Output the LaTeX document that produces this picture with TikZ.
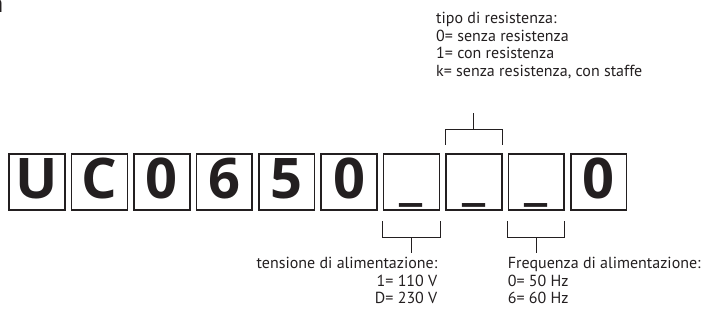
\documentclass[tikz,border=0pt]{standalone}
\usepackage{fontspec}
\setmainfont{Open Sans}
\newfontfamily\notefont{PT Sans}
\usepackage{xcolor}
\usetikzlibrary{positioning,calc}
\definecolor{ink}{HTML}{231F20}
\tikzset{
  digit/.style={draw=ink,text=ink,line width=1.6pt,minimum width=55.8pt,minimum height=56.5pt,inner sep=0pt,text height=32.5pt,text depth=0pt,font=\fontsize{56}{56}\bfseries\selectfont},
  note/.style={text=ink,font=\notefont\fontsize{16}{17.7}\selectfont,inner sep=0pt},
  brk/.style={ink,line width=0.9pt},
}

\begin{document}
\begin{tikzpicture}[x=1pt,y=-1pt]
\useasboundingbox (0,0) rectangle (703,327);
\node[note,font=\fontsize{24}{24}\bfseries\selectfont,anchor=base east] (tag) at (3.5,12) {a};
\node[digit] (b0) at (37,182) {U};
\node[digit] (b1) at (99.4,182) {C};
\node[digit] (b2) at (161.8,182) {0};
\node[digit] (b3) at (224.2,182) {6};
\node[digit] (b4) at (286.6,182) {5};
\node[digit] (b5) at (349,182) {0};
\node[digit] (b6) at (411.4,182) {\_};
\node[digit] (b7) at (473.8,182) {\_};
\node[digit] (b8) at (536.2,182) {\_};
\node[digit] (b9) at (598.6,182) {0};
\node[note,align=left,anchor=north west] (res) at (436,12) {tipo di resistenza:\\0= senza resistenza\\1= con resistenza\\k= senza resistenza, con staffe};
\node[note,align=right,anchor=north east] (volt) at (437.5,257) {tensione di alimentazione:\\1= 110 V\\D= 230 V};
\node[note,align=left,anchor=north west] (freq) at (507.7,257) {Frequenza di alimentazione:\\0= 50 Hz\\6= 60 Hz};
\coordinate (rl) at ($(b7.north west)+(0,-8)$);
\coordinate (rr) at ($(b7.north east)+(0,-8)$);
\draw[brk] (rl) -- ++(0,-16) -| (rr);
\draw[brk] ($(rl)!0.5!(rr)+(0,-16)$) -- ++(0,-16) coordinate (rtop);
\coordinate (vl) at ($(b6.south west)+(0,10)$);
\coordinate (vr) at ($(b6.south east)+(0,10)$);
\draw[brk] (vl) -- ++(0,16) -| (vr);
\draw[brk] ($(vl)!0.5!(vr)+(0,16)$) -- ++(0,16) coordinate (vbot);
\coordinate (fl) at ($(b8.south west)+(0,10)$);
\coordinate (fr) at ($(b8.south east)+(0,10)$);
\draw[brk] (fl) -- ++(0,16) -| (fr);
\draw[brk] ($(fl)!0.5!(fr)+(0,16)$) -- ++(0,16) coordinate (fbot);
\end{tikzpicture}
\end{document}
